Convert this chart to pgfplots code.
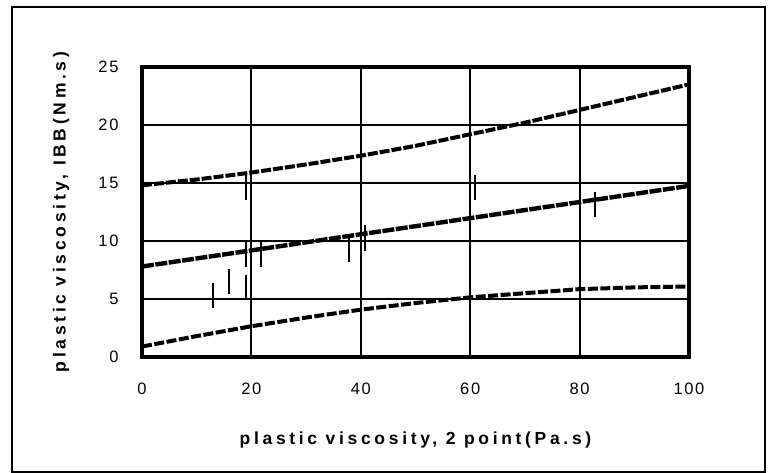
\documentclass[border=0pt]{standalone}
\usepackage{fontspec}
\setmainfont{Liberation Sans}
\newfontfamily\tickfont[LetterSpace=10]{Liberation Sans}
\newfontfamily\labfont[LetterSpace=21]{Liberation Sans}
\usepackage{pgfplots}
\pgfplotsset{compat=1.18}
\begin{document}
\begin{tikzpicture}
\path (0,0) rectangle (774pt,473pt);
\draw[line width=2pt] (12pt,1pt) rectangle (765pt,466pt);
\begin{axis}[
  at={(142pt,116pt)}, anchor=south west,
  scale only axis, width=547pt, height=290pt,
  xmin=0, xmax=100, ymin=0, ymax=25,
  xtick={0,20,...,100}, ytick={0,5,...,25},
  axis line style={line width=3.2pt},
  grid=major,
  major grid style={line width=1.9pt, black},
  tick style={black, line width=2pt},
  major tick length=5pt, tick align=inside,
  /pgf/number format/assume math mode=true,
  ticklabel style={font=\tickfont\fontsize{16.5}{19}\selectfont},
  xticklabel shift=22pt,
  yticklabel shift=20pt,
  xlabel={plastic viscosity, 2 point(Pa.s)},
  ylabel={plastic viscosity, IBB(Nm.s)},
  xlabel style={font=\labfont\bfseries\fontsize{17.5}{20}\selectfont, at={(axis description cs:0.5,-0.3034)}, anchor=base},
  ylabel style={font=\labfont\bfseries\fontsize{17.5}{20}\selectfont, at={(axis description cs:-0.148,0.5)}, anchor=center},
]
\addplot[black, line width=4pt, dash pattern=on 10pt off 2pt] coordinates {
(0,14.8) (10,15.3) (20,15.9) (30,16.6) (40,17.35) (50,18.2) (60,19.2) (70,20.2) (80,21.3) (90,22.4) (100,23.5)};
\addplot[black, line width=4.4pt, dash pattern=on 12pt off 1.5pt] coordinates {
(0,7.8) (20,9.19) (40,10.58) (60,11.97) (80,13.36) (100,14.75)};
\addplot[black, line width=4pt, dash pattern=on 10pt off 2.5pt] coordinates {
(0,0.9) (10,1.8) (20,2.65) (30,3.4) (40,4.08) (50,4.65) (60,5.14) (70,5.5) (80,5.85) (90,6.0) (100,6.08)};
\addplot[black, only marks, mark=|, mark size=12.75pt, mark options={line width=1.7pt}] coordinates {
(13.0,5.3) (15.9,6.5) (19.0,6.0) (19.0,8.85) (19.0,14.6) (21.8,8.9) (37.8,9.25) (40.8,10.25) (60.9,14.6) (82.8,13.15)};
\end{axis}
\end{tikzpicture}
\end{document}
